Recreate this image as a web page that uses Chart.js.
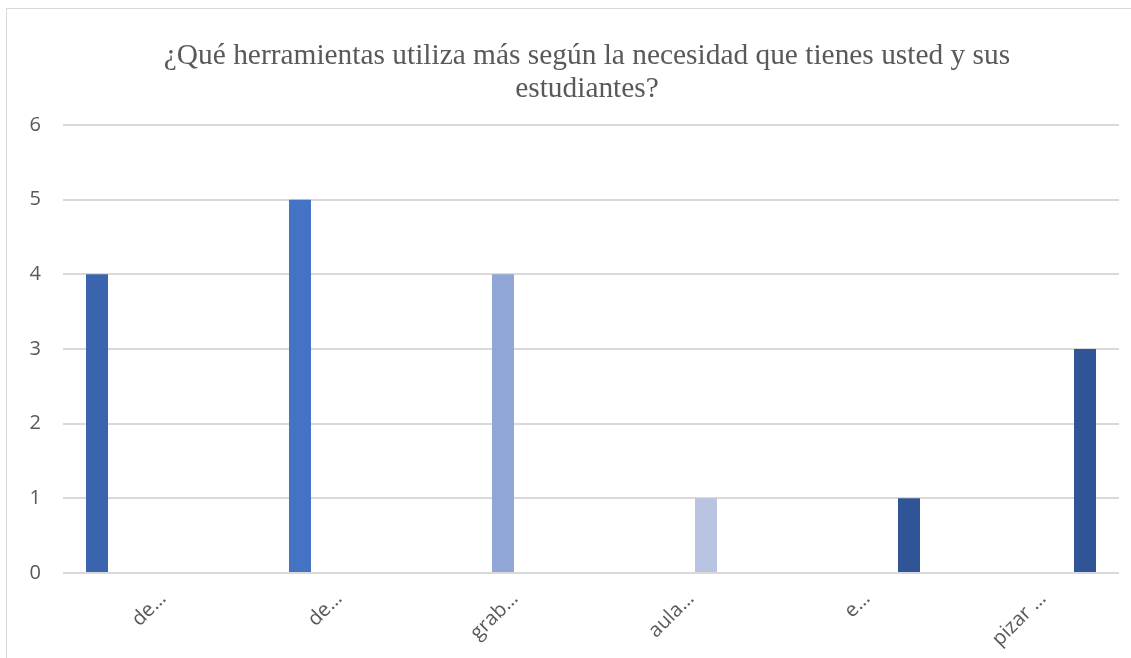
<!DOCTYPE html>
<html>
<head>
<meta charset="utf-8">
<script src="https://cdn.jsdelivr.net/npm/chart.js@4"></script>
<style>
  html, body { margin: 0; padding: 0; background: #fff; overflow: hidden; }
  #wrap { position: relative; width: 1131px; height: 658px; }
  #frame { position: absolute; left: 6px; top: 8px; width: 1200px; height: 700px; border-left: 1px solid #d9d9d9; border-top: 1px solid #d9d9d9; }
  #graph-title { position: absolute; left: 43px; right: 0; top: 38px; margin: 0; text-align: center;
    font: 400 29.4px/33px "Liberation Serif", "DejaVu Serif", serif; color: #595959; }
  #toolChart { position: absolute; left: 0; top: 0; }
</style>
</head>
<body>
<div id="wrap">
  <div id="frame"></div>
  <canvas id="toolChart" width="1131" height="658"></canvas>
  <h2 id="graph-title">¿Qué herramientas utiliza más según la necesidad que tienes usted y sus<br>estudiantes?</h2>
</div>
<script>
const categories = ['de…', 'de…', 'grab…', 'aula…', 'e…', 'pizar …'];

// one series per colour, as in the original sheet
const serie1 = [4, 0, 0, 0, 0, 0];
const serie2 = [0, 5, 0, 0, 0, 0];
const serie3 = [0, 0, 4, 0, 0, 0];
const serie4 = [0, 0, 0, 1, 0, 0];
const serie5 = [0, 0, 0, 0, 1, 3];

const yTicks = [0, 1, 2, 3, 4, 5, 6];

const colors = ['#3a64ad', '#4472c4', '#8fa6d6', '#b9c3e2', '#2f5597'];
const series = [serie1, serie2, serie3, serie4, serie5];

const ctx = document.getElementById('toolChart').getContext('2d');
new Chart(ctx, {
  type: 'bar',
  data: {
    labels: categories,
    datasets: series.map((data, i) => ({
      label: 'Serie ' + (i + 1),
      data: data,
      backgroundColor: colors[i],
      borderWidth: 0,
      categoryPercentage: 0.767,
      barPercentage: 0.815,
    })),
  },
  options: {
    responsive: false,
    animation: false,
    layout: { padding: { top: 125, right: 12, left: 0, bottom: 0 } },
    plugins: {
      legend: { display: false },
      tooltip: { enabled: false },
    },
    scales: {
      x: {
        grid: { display: false },
        border: { display: false },
        ticks: {
          color: '#595959',
          font: { family: 'Open Sans', size: 20 },
          minRotation: 45,
          maxRotation: 45,
          padding: 6,
          labelOffset: 12,
        },
        afterFit: (scale) => { scale.height = 85; },
      },
      y: {
        min: 0,
        max: 6,
        afterBuildTicks: (scale) => { scale.ticks = yTicks.map(v => ({ value: v })); },
        grid: { color: '#d9d9d9', lineWidth: 2, drawTicks: false },
        border: { display: false },
        ticks: {
          color: '#595959',
          font: { family: 'Open Sans', size: 20 },
          padding: 22,
        },
        afterFit: (scale) => { scale.width = 63; },
      },
    },
  },
});
</script>
</body>
</html>
